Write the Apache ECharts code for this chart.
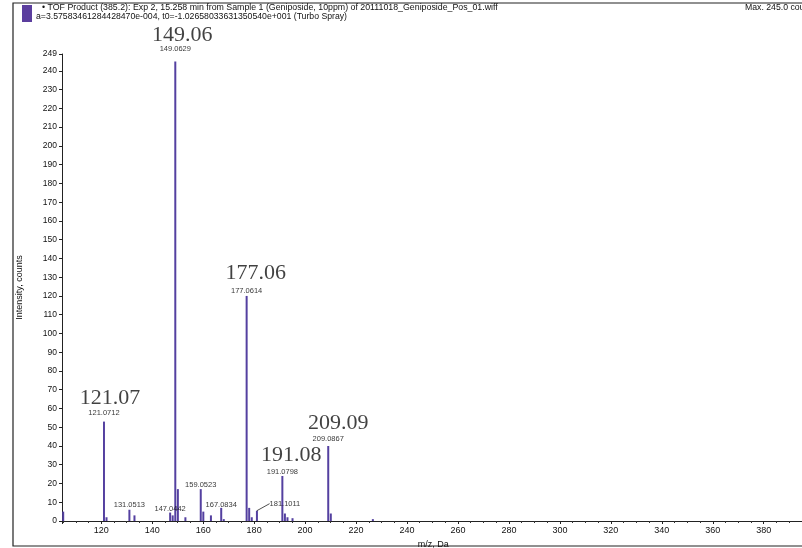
<!DOCTYPE html>
<html>
<head>
<meta charset="utf-8">
<script src="https://cdn.jsdelivr.net/npm/echarts@6/dist/echarts.min.js"></script>
<style>
html,body{margin:0;padding:0;background:#fff;}
#chart{width:802px;height:548px;}
</style>
</head>
<body>
<div id="chart"></div>
<script>
// ---- data ----
const titleLine1 = '\u2022 TOF Product (385.2): Exp 2, 15.258 min from Sample 1 (Geniposide, 10ppm) of 20111018_Geniposide_Pos_01.wiff';
const titleLine2 = 'a=3.57583461284428470e-004, t0=-1.02658033631350540e+001 (Turbo Spray)';
const maxText = 'Max. 245.0 counts.';
const xName = 'm/z, Da';
const yName = 'Intensity, counts';

const peakMz  = [105.07, 121.0712, 122.07, 131.0513, 133.04, 147.0442, 148.04, 149.0629, 150.07, 153.03, 159.0523, 160.06, 163.05, 167.0834, 168.09, 177.0614, 178.06, 179.07, 181.1011, 191.0798, 192.08, 193.09, 195.07, 209.0867, 210.09, 226.6];
const peakInt = [5,      53,       2,      6,        3,      4.5,      3,      245,      17,     2,      17,       5,      3,      7,        1,      120,      7,      2,      5.5,      24,       4,      2,      1.5,    40,       4,      1];

const smallLabels = ['121.0712', '131.0513', '147.0442', '149.0629', '159.0523', '167.0834', '177.0614', '181.1011', '191.0798', '209.0867'];
const bigLabels   = ['121.07', '149.06', '177.06', '191.08', '209.09'];

// ---- styles / layout ----
const peakColor = '#5440a0';
const textColor = '#111';

function intensityOf(label) {
  const v = parseFloat(label);
  let best = 0, bd = 1e9;
  peakMz.forEach((m, i) => { const d = Math.abs(m - v); if (d < bd) { bd = d; best = i; } });
  return [peakMz[best], peakInt[best]];
}

// label placement tweaks (layout only)
const smallAdjust = {
  '121.0712': [0, -3], '131.0513': [0, 1], '147.0442': [0, 2], '149.0629': [0, -7],
  '159.0523': [0, 2], '167.0834': [0, 3], '177.0614': [0, 1], '181.1011': [28, -1],
  '191.0798': [0, 2], '209.0867': [0, -1]
};
const bigOffset = {
  '121.07': [6, -12], '149.06': [7, -15], '177.06': [9, -12], '191.08': [9, -10], '209.09': [10, -12]
};

const smallData = smallLabels.map(t => {
  const item = { value: intensityOf(t), name: t };
  if (t === '181.1011') item.labelLine = { show: true };
  return item;
});
const bigData = bigLabels.map(t => ({ value: intensityOf(t), name: t, label: { offset: bigOffset[t] } }));

const chart = echarts.init(document.getElementById('chart'), null, { renderer: 'canvas' });

const font = '"Liberation Sans", Arial, sans-serif';

const option = {
  animation: false,
  backgroundColor: '#fff',
  graphic: [
    { type: 'rect', shape: { x: 13, y: 3, width: 820, height: 543 }, style: { fill: 'none', stroke: '#222', lineWidth: 1.2 }, z: -1 },
    { type: 'rect', shape: { x: 22, y: 5, width: 10, height: 17 }, style: { fill: '#5b3e9e' } },
    { type: 'text', left: 42, top: 3, style: { text: titleLine1, font: '8.8px ' + font, fill: textColor } },
    { type: 'text', left: 36, top: 12, style: { text: titleLine2, font: '8.7px ' + font, fill: textColor } },
    { type: 'text', left: 745, top: 3, style: { text: maxText, font: '8.7px ' + font, fill: textColor } }
  ],
  grid: { left: 62, top: 54, width: 742.5, bottom: 27, containLabel: false, outerBoundsMode: 'none' },
  xAxis: {
    type: 'value',
    min: 104.6,
    max: 396,
    splitNumber: 15,
    name: xName,
    nameLocation: 'middle',
    nameGap: 10,
    nameTextStyle: { fontFamily: font, fontSize: 9, color: textColor },
    axisLine: { show: true, lineStyle: { color: '#222', width: 1 } },
    axisTick: { show: true, inside: false, length: 3, lineStyle: { color: '#222' } },
    minorTick: { show: true, splitNumber: 4, length: 2, lineStyle: { color: '#333' } },
    axisLabel: { showMinLabel: false, showMaxLabel: false, margin: 5, fontFamily: font, fontSize: 9, color: textColor },
    splitLine: { show: false }
  },
  yAxis: {
    type: 'value',
    min: 0,
    max: 249,
    interval: 10,
    name: yName,
    nameLocation: 'middle',
    nameGap: 38,
    nameTextStyle: { fontFamily: font, fontSize: 9, color: textColor },
    axisLine: { show: true, lineStyle: { color: '#222', width: 1 } },
    axisTick: { show: true, length: 3, lineStyle: { color: '#222' } },
    axisLabel: { margin: 5, fontFamily: font, fontSize: 8.5, color: textColor },
    splitLine: { show: false }
  },
  series: [
    {
      type: 'bar',
      data: peakMz.map((m, i) => [m, peakInt[i]]),
      barWidth: 2,
      itemStyle: { color: peakColor },
      silent: true,
      z: 3
    },
    {
      type: 'scatter',
      data: smallData,
      symbolSize: 0,
      silent: true,
      label: {
        show: true,
        position: 'top',
        distance: 2,
        formatter: p => p.name,
        fontFamily: font,
        fontSize: 7.5,
        color: '#000'
      },
      labelLine: { show: false, length2: 0, lineStyle: { color: '#222', width: 0.8 } },
      labelLayout: function (params) {
        const a = smallAdjust[smallLabels[params.dataIndex]];
        return a ? { dx: a[0], dy: a[1] } : {};
      },
      z: 4
    },
    {
      type: 'scatter',
      data: bigData,
      symbolSize: 0,
      silent: true,
      label: {
        show: true,
        position: 'top',
        distance: 0,
        formatter: p => p.name,
        fontFamily: '"Liberation Serif", "DejaVu Serif", serif',
        fontSize: 22,
        color: textColor
      },
      z: 4
    }
  ]
};

chart.setOption(option);
</script>
</body>
</html>
